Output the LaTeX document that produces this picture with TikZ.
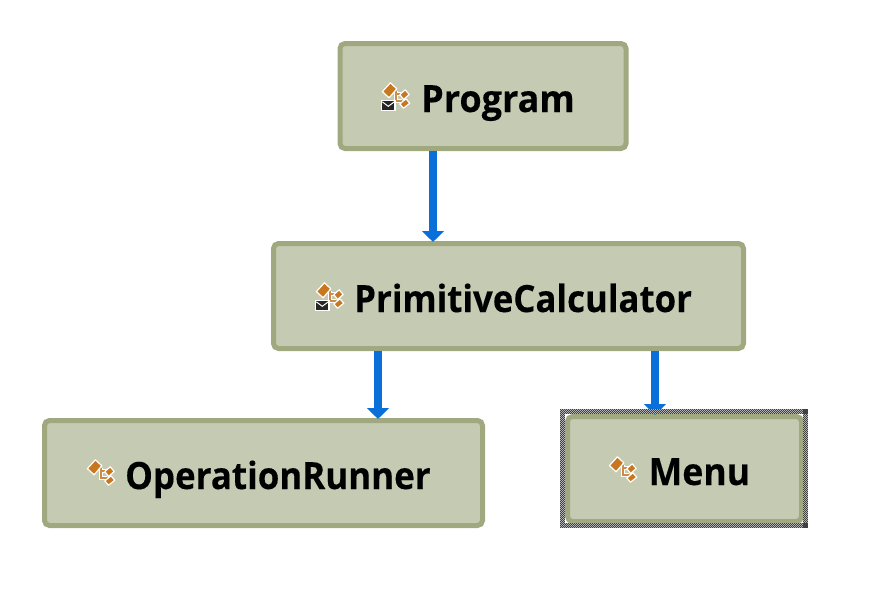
\documentclass[tikz,border=0pt]{standalone}
\usepackage{fontspec}
\setmainfont[BoldFeatures={FakeBold=0.25}]{Open Sans}
\usetikzlibrary{arrows.meta}
\definecolor{boxfill}{HTML}{C5CAB3}
\definecolor{boxline}{HTML}{A0A880}
\definecolor{arrowblue}{HTML}{0A6FD8}
\definecolor{iconorange}{HTML}{C8771F}
\definecolor{icontan}{HTML}{CF8A45}
\tikzset{
  classbox/.style={draw=boxline,fill=boxfill,line width=5pt,rounded corners=5pt,inner sep=0pt,
    minimum width=#1},
  boxtext/.style={anchor=base west,inner sep=0pt,transform shape,xscale=#1,
    font=\fontsize{37.5pt}{40pt}\selectfont\bfseries,text=black},
  link/.style={draw=arrowblue,line width=7.5pt,-{Triangle[length=11pt,width=21.5pt]}},
  halo/.style={draw=white,line width=1.2pt,fill=iconorange,line join=round},
}
\newcommand{\classicon}[2]{%
  \begin{scope}[shift={(#1,#2)}]
    \draw[white,line width=4pt] (6,1)--(6,11)--(12,11) (6,4)--(12,4);
    \draw[icontan,line width=1.8pt] (6,1)--(6,11)--(12,11) (6,4)--(12,4);
    \draw[halo] (-7.6,1.6)--(0.4,-7.2)--(6.8,-1.2)--(-0.9,7.8)--cycle;
    \draw[halo] (9.8,4.6)--(15.2,-0.2)--(19.2,4.5)--(13.6,9.4)--cycle;
    \draw[halo] (9.8,14)--(15.9,8.8)--(19.8,13.2)--(13.5,18.2)--cycle;
  \end{scope}}
\newcommand{\envelopeicon}[2]{%
  \begin{scope}[shift={(#1,#2)}]
    \fill[white] (-7.5,-5.5) rectangle (7.5,5.5);
    \fill[black!85] (-6,-4) rectangle (6,4.5);
    \draw[white,line width=1pt] (-6,-3.5) -- (0,1) -- (6,-3.5);
  \end{scope}}
\begin{document}
\begin{tikzpicture}[x=1pt,y=-1pt]
\useasboundingbox (0,0) rectangle (886,590);
\fill[white] (0,0) rectangle (886,590);

\node[classbox=286pt,minimum height=105pt] (prog) at (483,96) {};
\node[classbox=470pt,minimum height=105pt] (calc) at (508.5,296) {};
\node[classbox=438pt,minimum height=105pt] (oper) at (263.5,473) {};
\node[classbox=234pt,minimum height=105pt] (menu) at (684.5,469) {};

\draw[link] ([xshift=-50pt]prog.south) -- ([xshift=-75.5pt,yshift=-1pt]calc.north);
\draw[link] ([xshift=-130.5pt]calc.south) -- ([xshift=114.5pt,yshift=-1pt]oper.north);
\draw[link] ([xshift=146.5pt]calc.south) -- ([xshift=-29.5pt,yshift=-1pt]menu.north);

% dithered selection frame of Menu
\draw[black!30,line width=5pt] (562.5,411.5) rectangle (805.5,525.5);
\foreach \r in {0,...,4}{
  \pgfmathtruncatemacro{\ph}{mod(\r,2)}
  \draw[black!75,line width=1pt,dash pattern=on 1pt off 1pt,dash phase=\ph pt] (560,409.5+\r) -- (808,409.5+\r);
  \draw[black!75,line width=1pt,dash pattern=on 1pt off 1pt,dash phase=\ph pt] (560,527.5-\r) -- (808,527.5-\r);
  \draw[black!75,line width=1pt,dash pattern=on 1pt off 1pt,dash phase=\ph pt] (560.5+\r,409) -- (560.5+\r,528);
  \draw[black!75,line width=1pt,dash pattern=on 1pt off 1pt,dash phase=\ph pt] (807.5-\r,409) -- (807.5-\r,528);
}

\classicon{390}{90}
\envelopeicon{388.3}{105.3}
\node[boxtext=0.96] (tprog) at (421,112) {Program};

\classicon{324}{290}
\envelopeicon{322.3}{305.3}
\node[boxtext=0.928] (tcalc) at (354,312) {PrimitiveCalculator};

\classicon{95}{467}
\node[boxtext=0.931] (toper) at (125,489) {OperationRunner};

\classicon{617}{464}
\node[boxtext=0.95] (tmenu) at (648.5,485) {Menu};
\end{tikzpicture}
\end{document}
